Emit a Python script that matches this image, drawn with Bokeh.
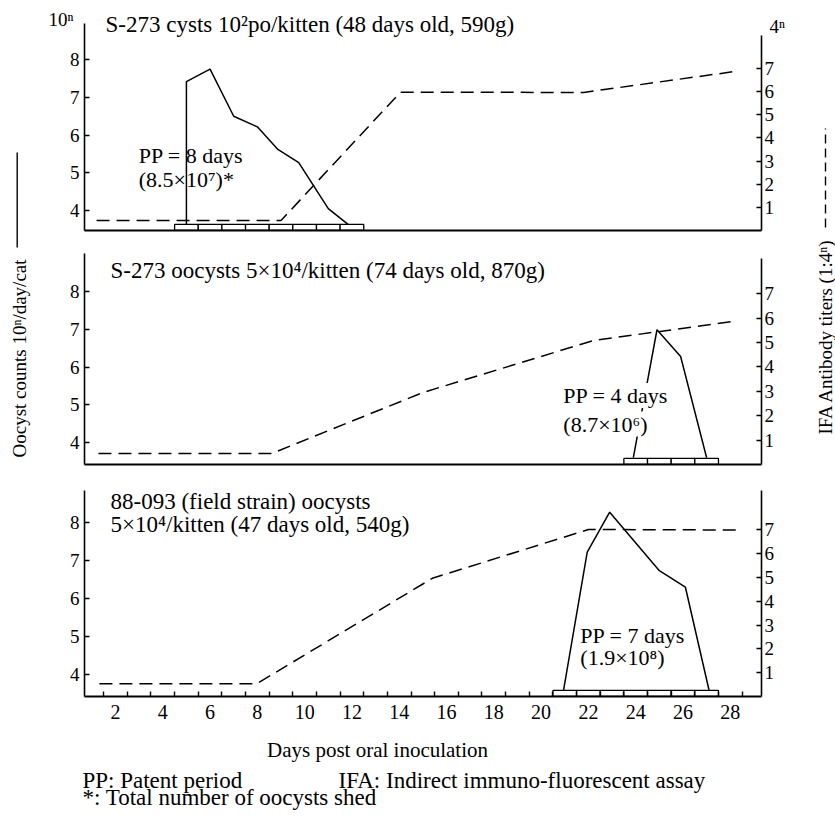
import math
from bokeh.plotting import figure
from bokeh.models import Range1d, LinearAxis, FixedTicker, Label, CustomJSTickFormatter
from bokeh.layouts import row, column
from bokeh.embed import file_html
from bokeh.resources import INLINE

FONT = "Liberation Serif"

# ---------------- data ----------------
x_label_days = [2, 4, 6, 8, 10, 12, 14, 16, 18, 20, 22, 24, 26, 28]
x_cell_bounds = [d + 0.5 for d in range(1, 29)]
left_ticks = [4, 5, 6, 7, 8]
right_ticks = [1, 2, 3, 4, 5, 6, 7]

# Panel 1: S-273 cysts
p1_oo_days = [5, 5, 6, 7, 8, 8.85, 9.75, 11, 11.9]
p1_oo_log = [3.6, 7.42, 7.75, 6.5, 6.22, 5.63, 5.27, 4.05, 3.6]
p1_ifa_days = [1.2, 9.0, 14.05, 21.8, 28.3]
p1_ifa_n = [0.43, 0.43, 5.97, 5.96, 6.88]
p1_pp_days = [5, 6, 7, 8, 9, 10, 11, 12]

# Panel 2: S-273 oocysts
p2_oo_days = [23.9, 24.9, 25.9, 27.0]
p2_oo_log = [3.6, 6.99, 6.28, 3.6]
p2_ifa_days = [1.28, 8.6, 15.0, 22.2, 28.3]
p2_ifa_n = [0.45, 0.45, 2.95, 5.08, 5.89]
p2_pp_days = [24, 25, 26, 27]

# Panel 3: 88-093 field strain oocysts
p3_oo_days = [20.95, 21.95, 22.9, 25.0, 26.1, 27.1]
p3_oo_log = [3.6, 7.23, 8.28, 6.74, 6.31, 3.6]
p3_ifa_days = [1.32, 7.98, 15.4, 22.0, 28.3]
p3_ifa_n = [0.54, 0.54, 4.97, 7.02, 7.0]
p3_pp_days = [21, 22, 23, 24, 25, 26, 27]

X_RANGE = (0.69, 29.32)
PW = 760


def lab(p, x, y, text, size="21px", **kw):
    p.add_layout(Label(x=x, y=y, text=text, text_font=FONT, text_font_size=size,
                       text_color="black", text_align=kw.pop("align", "left"),
                       text_baseline=kw.pop("baseline", "middle"), **kw))


def style_axis(ax, tick_in, standoff, size="19px"):
    ax.major_tick_in = tick_in
    ax.major_tick_out = 0
    ax.minor_tick_in = 0
    ax.minor_tick_out = 0
    ax.axis_line_width = 1.6
    ax.major_tick_line_width = 1.4
    ax.major_label_standoff = standoff
    ax.major_label_text_font = FONT
    ax.major_label_text_font_size = size
    ax.major_label_text_color = "black"


def make_panel(height, btop, bbot, y_left, y_right, left_bounds, right_bounds,
               oo_d, oo_v, ifa_d, ifa_v, pp_d, bottom_ticks, base):
    p = figure(width=PW, height=height, x_range=Range1d(*X_RANGE),
               y_range=Range1d(*y_left), output_backend="svg", toolbar_location=None,
               min_border_left=44, min_border_right=39, min_border_top=btop,
               min_border_bottom=bbot, outline_line_color=None,
               background_fill_color="white", border_fill_color="white")
    p.grid.visible = False
    p.extra_y_ranges = {"ifa": Range1d(*y_right)}

    ya = p.yaxis[0]
    ya.ticker = FixedTicker(ticks=left_ticks, minor_ticks=[])
    ya.bounds = left_bounds
    style_axis(ya, 5, 5)

    ra = LinearAxis(y_range_name="ifa", ticker=FixedTicker(ticks=right_ticks, minor_ticks=[]),
                    bounds=right_bounds)
    style_axis(ra, 5, 3)
    p.add_layout(ra, "right")

    xa = p.xaxis[0]
    xa.axis_line_width = 1.8
    if bottom_ticks:
        xa.ticker = FixedTicker(ticks=x_label_days, minor_ticks=x_cell_bounds)
        xa.major_tick_in = 0
        xa.major_tick_out = 0
        xa.minor_tick_in = 5
        xa.minor_tick_out = 0
        xa.minor_tick_line_width = 1.4
        xa.major_label_standoff = 8
        xa.major_label_text_font = FONT
        xa.major_label_text_font_size = "20px"
        xa.major_label_text_color = "black"
    else:
        xa.ticker = FixedTicker(ticks=[], minor_ticks=[])
        xa.major_tick_in = 0
        xa.major_tick_out = 0
        xa.minor_tick_in = 0
        xa.minor_tick_out = 0
        xa.major_label_standoff = 0
        xa.major_label_text_font_size = "0px"

    p.line(ifa_d, ifa_v, y_range_name="ifa", line_color="black", line_width=1.5,
           line_dash="13 7")
    p.line(oo_d, oo_v, line_color="black", line_width=1.5)
    p.quad(left=[d - 0.5 for d in pp_d], right=[d + 0.5 for d in pp_d],
           bottom=base, top=base + 0.16, fill_color="white", line_color="black",
           line_width=1.3)
    return p


def unit_axis(text, pos, standoff, range_name="default"):
    ax = LinearAxis(y_range_name=range_name, ticker=FixedTicker(ticks=[pos], minor_ticks=[]),
                    formatter=CustomJSTickFormatter(code="return '%s';" % text))
    style_axis(ax, 0, standoff)
    ax.axis_line_color = None
    ax.major_tick_line_color = None
    return ax


# ---- panel 1 (frame reaches the page top; spines limited by bounds) ----
p1 = make_panel(241, 0, 11, (3.47, 9.57), (0, 9.93), (3.47, 8.96), (0, 8.4),
                p1_oo_days, p1_oo_log, p1_ifa_days, p1_ifa_n, p1_pp_days, False, 3.47)
p1.add_layout(unit_axis("10ⁿ", 9.07, -7), "left")
p1.add_layout(unit_axis("4ⁿ", 8.80, -8, "ifa"), "right")
lab(p1, 1.58, 8.93, "S-273 cysts 10²po/kitten (48 days old, 590g)", "23px")
lab(p1, 2.98, 5.46, "PP = 8 days", "22px")
lab(p1, 2.98, 4.81, "(8.5×10⁷)*", "22px")

p2 = make_panel(236, 12, 13, (3.42, 9.01), (0, 8.65), "auto", (0, 8.44),
                p2_oo_days, p2_oo_log, p2_ifa_days, p2_ifa_n, p2_pp_days, False, 3.42)
lab(p2, 1.79, 8.57, "S-273 oocysts 5×10⁴/kitten (74 days old, 870g)", "23px")
lab(p2, 20.94, 5.25, "PP = 4 days", "22px", background_fill_color="white")
lab(p2, 20.94, 4.49, "(8.7×10⁶)", "22px", background_fill_color="white")

p3 = make_panel(258, 13, 39, (3.43, 8.85), (0, 8.66), "auto", "auto",
                p3_oo_days, p3_oo_log, p3_ifa_days, p3_ifa_n, p3_pp_days, True, 3.43)
lab(p3, 1.79, 8.55, "88-093 (field strain) oocysts", "23px")
lab(p3, 1.79, 7.96, "5×10⁴/kitten (47 days old, 540g)", "23px")
lab(p3, 21.66, 5.03, "PP = 7 days", "22px")
lab(p3, 21.66, 4.46, "(1.9×10⁸)", "22px")

BOTTOM_H = 85
TOTAL_H = 241 + 236 + 258 + BOTTOM_H


def strip_fig(w, h):
    f = figure(width=w, height=h, x_range=Range1d(0, w), y_range=Range1d(0, h),
               x_axis_type=None, y_axis_type=None, output_backend="svg",
               toolbar_location=None, min_border=0, outline_line_color=None,
               background_fill_color="white", border_fill_color="white")
    if "frame_align" in f.properties():
        f.frame_align = False
    return f


def slab(f, x, y, text, size, **kw):
    f.add_layout(Label(x=x, y=y, text=text, text_font=FONT, text_font_size=size,
                       text_color="black", text_align=kw.pop("align", "left"),
                       text_baseline=kw.pop("baseline", "middle"), **kw))


bottom_fig = strip_fig(PW, BOTTOM_H)
slab(bottom_fig, 337, 71, "Days post oral inoculation", "21px", align="center")
slab(bottom_fig, 42, 40.5, "PP: Patent period", "23px")
slab(bottom_fig, 298, 40.5, "IFA: Indirect immuno-fluorescent assay", "23px")
slab(bottom_fig, 42, 23, "*: Total number of oocysts shed", "23px")

left_fig = strip_fig(40, TOTAL_H)
slab(left_fig, 18.5, TOTAL_H - 358, "Oocyst counts 10ⁿ/day/cat", "19px",
     align="center", angle=math.pi / 2)
left_fig.line([16.7, 16.7], [TOTAL_H - 247, TOTAL_H - 152], line_color="black",
              line_width=1.4)

right_fig = strip_fig(35, TOTAL_H)
slab(right_fig, 25, TOTAL_H - 336, "IFA Antibody titers (1:4ⁿ)", "19px",
     align="center", angle=math.pi / 2)
right_fig.line([25, 25], [TOTAL_H - 227, TOTAL_H - 128], line_color="black",
               line_width=1.4, line_dash="9 5")

layout = row(left_fig, column(p1, p2, p3, bottom_fig), right_fig)

open("out.html", "w").write(file_html(layout, INLINE))
